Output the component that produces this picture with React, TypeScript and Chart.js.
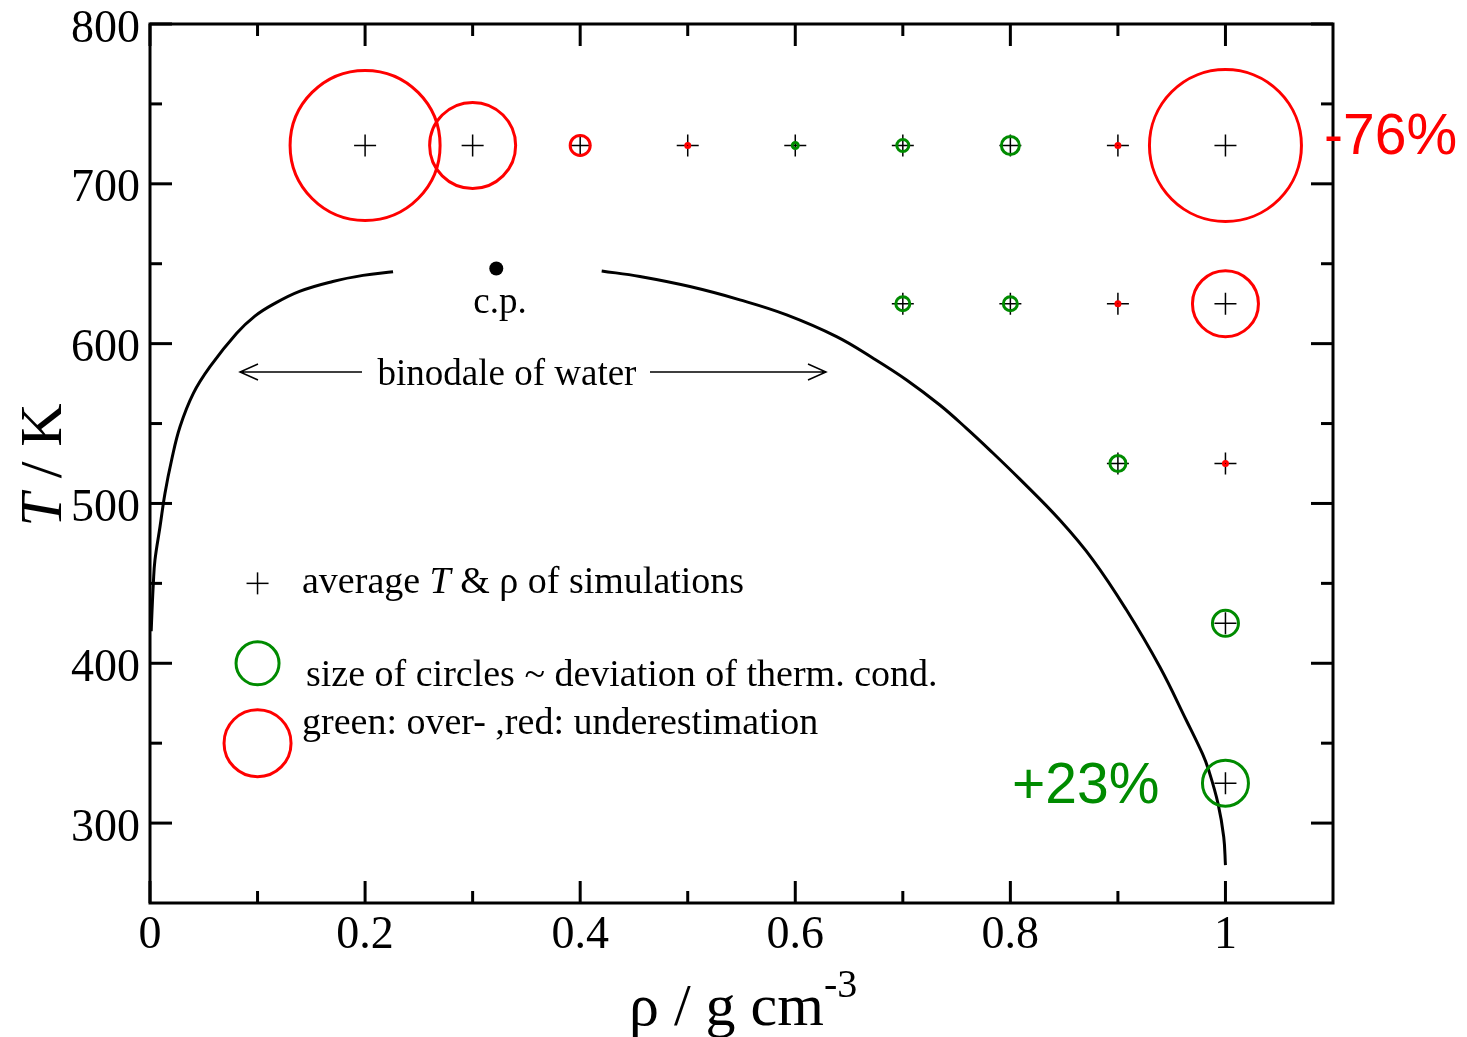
import { useEffect, useRef } from "react";
import { Chart, registerables } from "chart.js";

Chart.register(...registerables);

const RED = "#ff0000";
const GREEN = "#008b00";
const SERIF = "'Liberation Serif', 'Times New Roman', Times, serif";
const SANS = "'Liberation Sans', Arial, Helvetica, sans-serif";

// Axis ticks
const xMajorTicks = [0, 0.2, 0.4, 0.6, 0.8, 1];
const xMinorTicks = [0.1, 0.3, 0.5, 0.7, 0.9];
const xTickLabels = ["0", "0.2", "0.4", "0.6", "0.8", "1"];
const yMajorTicks = [300, 400, 500, 600, 700, 800];
const yMinorTicks = [350, 450, 550, 650, 750];
const yTickLabels = ["300", "400", "500", "600", "700", "800"];

// Simulation state points: average density (g/cm3) and temperature (K)
const simRho = [0.2, 0.3, 0.4, 0.5, 0.6, 0.7, 0.8, 0.9, 1.0, 0.7, 0.8, 0.9, 1.0, 0.9, 1.0, 1.0, 1.0];
const simT = [724, 724, 724, 724, 724, 724, 724, 724, 724, 625, 625, 625, 625, 525, 525, 425, 325];
// Deviation of the thermal conductivity in % (positive: over-, negative: underestimation)
const deviation = [-75, -43, -10, -2, 3, 6, 9, -2, -76, 7, 7, -2, -33, 8, -2, 13, 23];

// Binodal of water, vapour branch
const vapourRho = [0.0011, 0.0017, 0.0031, 0.0046, 0.0093, 0.0139, 0.0201, 0.0279, 0.0403, 0.0558, 0.0806, 0.0975, 0.114, 0.139, 0.17, 0.198, 0.226];
const vapourT = [420, 430, 450, 464.5, 485.4, 506.3, 527.2, 548.0, 568.9, 585.6, 606.5, 617.2, 624.4, 632.7, 638.9, 642.7, 645.0];
// Binodal of water, liquid branch
const liquidRho = [0.42, 0.4555, 0.502, 0.5485, 0.592, 0.6384, 0.6724, 0.7035, 0.7344, 0.7592, 0.7809, 0.8088, 0.846, 0.8769, 0.908, 0.9389, 0.9637, 0.9786, 0.9845, 0.9931, 0.9984, 1.0];
const liquidT = [645.5, 642.0, 635.7, 627.4, 618.0, 604.4, 590.9, 577.3, 561.6, 547.0, 533.4, 515.2, 489.6, 464.6, 433.3, 397.8, 364.2, 343.4, 332.9, 312.2, 291.3, 273.7];

// Critical point
const cpRho = [0.322];
const cpT = [647];

// Circle radius in pixels per percent of deviation
const CIRCLE_SCALE = 1.0;

const pts = (xs: number[], ys: number[]) => xs.map((x, i) => ({ x, y: ys[i] }));

type Run = { t: string; italic?: boolean };

function runsWidth(ctx: CanvasRenderingContext2D, runs: Run[], size: number, family: string) {
  let w = 0;
  for (const r of runs) {
    ctx.font = `${r.italic ? "italic " : ""}${size}px ${family}`;
    w += ctx.measureText(r.t).width;
  }
  return w;
}

function drawRuns(ctx: CanvasRenderingContext2D, runs: Run[], x: number, y: number, size: number, family: string) {
  ctx.textAlign = "left";
  let cx = x;
  for (const r of runs) {
    ctx.font = `${r.italic ? "italic " : ""}${size}px ${family}`;
    ctx.fillText(r.t, cx, y);
    cx += ctx.measureText(r.t).width;
  }
  return cx;
}

function arrow(ctx: CanvasRenderingContext2D, x0: number, x1: number, y: number) {
  const dir = Math.sign(x1 - x0);
  ctx.beginPath();
  ctx.moveTo(x0, y);
  ctx.lineTo(x1, y);
  ctx.moveTo(x1 - dir * 18, y - 8);
  ctx.lineTo(x1, y);
  ctx.lineTo(x1 - dir * 18, y + 8);
  ctx.stroke();
}

const framePlugin = {
  id: "frameAndNotes",
  afterDraw(chart: any) {
    const { ctx, chartArea: a, scales } = chart;
    const xs = scales.x;
    const ys = scales.y;
    const X = (v: number) => xs.getPixelForValue(v);
    const Y = (v: number) => ys.getPixelForValue(v);
    ctx.save();

    // frame and inward ticks on all four sides
    ctx.strokeStyle = "#000";
    ctx.lineWidth = 3;
    ctx.strokeRect(a.left, a.top, a.right - a.left, a.bottom - a.top);
    const seg = (x1: number, y1: number, x2: number, y2: number) => {
      ctx.beginPath();
      ctx.moveTo(x1, y1);
      ctx.lineTo(x2, y2);
      ctx.stroke();
    };
    const xTick = (v: number, len: number) => {
      const p = X(v);
      seg(p, a.bottom, p, a.bottom - len);
      seg(p, a.top, p, a.top + len);
    };
    const yTick = (v: number, len: number) => {
      const p = Y(v);
      seg(a.left, p, a.left + len, p);
      seg(a.right, p, a.right - len, p);
    };
    xMajorTicks.forEach((v) => xTick(v, 22));
    xMinorTicks.forEach((v) => xTick(v, 12));
    yMajorTicks.forEach((v) => yTick(v, 22));
    yMinorTicks.forEach((v) => yTick(v, 12));

    // tick labels
    ctx.fillStyle = "#000";
    ctx.font = `46px ${SERIF}`;
    ctx.textBaseline = "alphabetic";
    ctx.textAlign = "center";
    xMajorTicks.forEach((v, i) => ctx.fillText(xTickLabels[i], X(v), a.bottom + 45));
    ctx.textAlign = "right";
    yMajorTicks.forEach((v, i) => ctx.fillText(yTickLabels[i], a.left - 10, Y(v) + 17.5));

    // x axis title with superscript
    const xTitleStart = a.left + 479;
    ctx.textAlign = "left";
    ctx.font = `60px ${SERIF}`;
    ctx.fillText("\u03c1 / g cm", xTitleStart, 1025);
    const wMain = ctx.measureText("\u03c1 / g cm").width;
    ctx.font = `40px ${SERIF}`;
    ctx.fillText("-3", xTitleStart + wMain, 997);

    // y axis title, rotated
    ctx.save();
    ctx.translate(61, 465);
    ctx.rotate(-Math.PI / 2);
    const yRuns: Run[] = [{ t: "T", italic: true }, { t: " / K" }];
    const wy = runsWidth(ctx, yRuns, 60, SERIF);
    drawRuns(ctx, yRuns, -wy / 2, 0, 60, SERIF);
    ctx.restore();

    // critical point label and binodal annotation
    ctx.font = `37px ${SERIF}`;
    ctx.textAlign = "center";
    ctx.fillText("c.p.", 500, 313);
    ctx.fillText("binodale of water", 507, 385);
    ctx.lineWidth = 1.5;
    arrow(ctx, 362, 240, 372);
    arrow(ctx, 650, 826, 372);

    // in-plot legend
    const lx = X(0.1);
    ctx.lineWidth = 1.5;
    const cy = Y(450);
    seg(lx - 11, cy, lx + 11, cy);
    seg(lx, cy - 11, lx, cy + 11);
    drawRuns(ctx, [{ t: "average " }, { t: "T", italic: true }, { t: " & \u03c1 of simulations" }], 302, 593, 38, SERIF);

    ctx.lineWidth = 3;
    ctx.strokeStyle = GREEN;
    ctx.beginPath();
    ctx.arc(lx, Y(400), 21.5, 0, Math.PI * 2);
    ctx.stroke();
    ctx.strokeStyle = RED;
    ctx.beginPath();
    ctx.arc(lx, Y(350), 33.5, 0, Math.PI * 2);
    ctx.stroke();
    drawRuns(ctx, [{ t: "size of circles ~ deviation of therm. cond." }], 306, 686, 38, SERIF);
    drawRuns(ctx, [{ t: "green: over- ,red: underestimation" }], 302, 734, 38, SERIF);

    // extreme deviation labels
    ctx.font = `57px ${SANS}`;
    ctx.textAlign = "left";
    ctx.fillStyle = RED;
    ctx.fillText("-76%", 1324, 154);
    ctx.fillStyle = GREEN;
    ctx.fillText("+23%", 1012, 803);

    ctx.restore();
  },
};

export default function App() {
  const ref = useRef<HTMLCanvasElement>(null);

  useEffect(() => {
    const canvas = ref.current;
    if (!canvas) return;
    const simPts = pts(simRho, simT);
    const chart = new Chart(canvas, {
      type: "scatter",
      data: {
        datasets: [
          {
            label: "deviation",
            data: simPts,
            order: 0,
            pointStyle: "circle",
            pointRadius: (c: any) => Math.abs(deviation[c.dataIndex]) * CIRCLE_SCALE,
            pointBorderColor: (c: any) => (deviation[c.dataIndex] > 0 ? GREEN : RED),
            pointBackgroundColor: "rgba(0,0,0,0)",
            pointBorderWidth: 3,
          },
          {
            label: "simulations",
            data: simPts,
            order: 1,
            pointStyle: "cross",
            pointRadius: 11,
            pointBorderColor: "#000",
            pointBorderWidth: 1.5,
          },
          {
            label: "critical point",
            data: pts(cpRho, cpT),
            order: 2,
            pointStyle: "circle",
            pointRadius: 7,
            pointBackgroundColor: "#000",
            pointBorderWidth: 0,
          },
          {
            label: "vapour",
            data: pts(vapourRho, vapourT),
            order: 3,
            showLine: true,
            borderColor: "#000",
            borderWidth: 3,
            pointRadius: 0,
            tension: 0.4,
          },
          {
            label: "liquid",
            data: pts(liquidRho, liquidT),
            order: 3,
            showLine: true,
            borderColor: "#000",
            borderWidth: 3,
            pointRadius: 0,
            tension: 0.4,
          },
        ],
      } as any,
      options: {
        animation: false,
        responsive: false,
        maintainAspectRatio: false,
        events: [],
        layout: { autoPadding: false, padding: { left: 150, top: 24, right: 134, bottom: 134 } },
        scales: {
          x: { type: "linear", min: 0, max: 1.1, display: false },
          y: { type: "linear", min: 250, max: 800, display: false },
        },
        plugins: { legend: { display: false }, tooltip: { enabled: false } },
      } as any,
      plugins: [framePlugin],
    });
    return () => chart.destroy();
  }, []);

  return (
    <div style={{ position: "fixed", left: 0, top: 0, width: 1467, height: 1037, background: "#fff" }}>
      <canvas ref={ref} width={1467} height={1037} style={{ display: "block", width: 1467, height: 1037 }} />
    </div>
  );
}
